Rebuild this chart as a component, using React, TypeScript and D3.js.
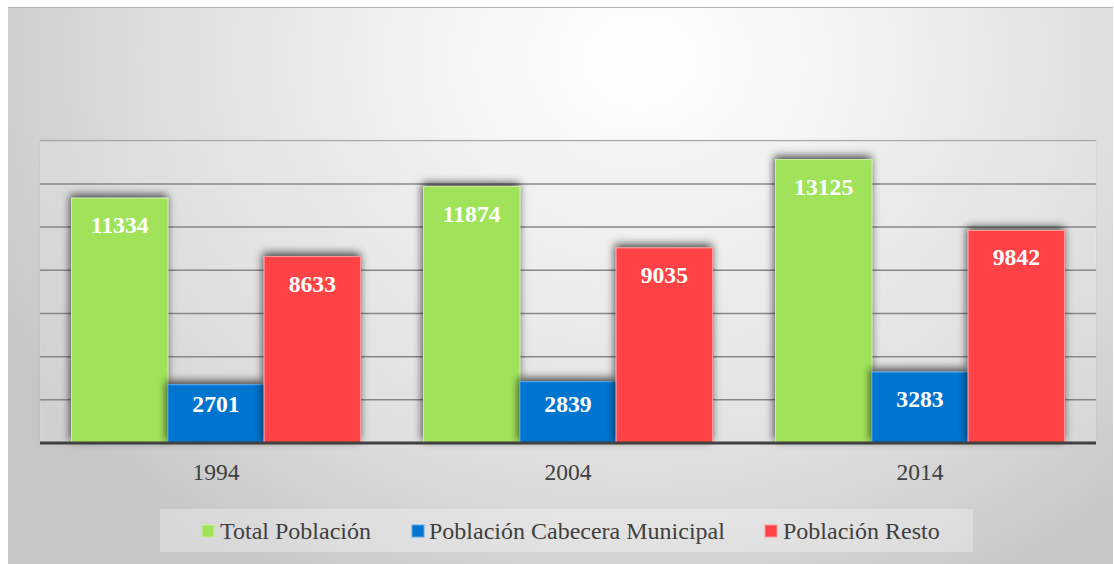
import React from "react";
import * as d3 from "d3";

const categories = ["1994", "2004", "2014"];
const seriesNames = ["Total Población", "Población Cabecera Municipal", "Población Resto"];
const totalPoblacion = [11334, 11874, 13125];
const cabeceraMunicipal = [2701, 2839, 3283];
const poblacionResto = [8633, 9035, 9842];
const yTicks = [0, 2000, 4000, 6000, 8000, 10000, 12000, 14000];

const colors = ["#a0e35a", "#0474d0", "#ff4245"];
const strokes = ["#c8f29a", "#5aaaf0", "#ff9a9c"];

const W = 1114;
const H = 564;
const plot = { left: 40, right: 1096, top: 140.7, bottom: 443 };
const serif = "'Liberation Serif', 'Times New Roman', serif";

export default function App() {
  const series = [totalPoblacion, cabeceraMunicipal, poblacionResto];
  const x0 = d3.scaleBand().domain(categories).range([plot.left, plot.right]).paddingInner(0).paddingOuter(0);
  const x1 = d3
    .scaleBand()
    .domain(seriesNames)
    .range([0, x0.bandwidth()])
    .paddingInner(0)
    .paddingOuter(0.327);
  const y = d3.scaleLinear().domain([0, 14000]).range([plot.bottom, plot.top]);

  const legendItems = [
    { name: seriesNames[0], sx: 202, tx: 220 },
    { name: seriesNames[1], sx: 412, tx: 429 },
    { name: seriesNames[2], sx: 765, tx: 783 },
  ];

  return (
    <svg
      width={W}
      height={H}
      style={{ position: "absolute", left: 0, top: 0, display: "block" }}
    >
      <defs>
        <radialGradient id="bg" gradientUnits="userSpaceOnUse" cx={640} cy={60} r={720}
          gradientTransform="translate(640 60) scale(1 0.85) translate(-640 -60)">
          <stop offset="0" stopColor="#ffffff" />
          <stop offset="0.3" stopColor="#f3f3f3" />
          <stop offset="0.7" stopColor="#dcdcdc" />
          <stop offset="1" stopColor="#c6c6c6" />
        </radialGradient>
        <filter id="plotShadow" x="-5%" y="-10%" width="110%" height="120%">
          <feDropShadow dx="0" dy="0" stdDeviation="1.5" floodColor="#000" floodOpacity="0.35" />
        </filter>
        <filter id="barShadow" x="-30%" y="-30%" width="160%" height="160%">
          <feDropShadow dx="-1" dy="-3" stdDeviation="4" floodColor="#000" floodOpacity="0.7" />
        </filter>
      </defs>
      <rect x={0} y={0} width={W} height={H} fill="#ffffff" />
      <rect x={8} y={7} width={1105} height={H - 7} fill="url(#bg)" />
      <line x1={8} x2={1113} y1={7.5} y2={7.5} stroke="#b4b4b4" strokeWidth={1} />

      {/* plot area */}
      <rect
        x={plot.left}
        y={plot.top}
        width={plot.right - plot.left}
        height={plot.bottom - plot.top}
        fill="#ffffff"
        fillOpacity={0.25}
        filter="url(#plotShadow)"
      />

      {/* gridlines */}
      {yTicks.slice(1, -1).map((t) => (
        <line
          key={t}
          x1={plot.left}
          x2={plot.right}
          y1={y(t)}
          y2={y(t)}
          stroke="#878787"
          strokeWidth={1.5}
        />
      ))}
      <line x1={plot.left} x2={plot.right} y1={plot.top} y2={plot.top} stroke="#9a9a9a" strokeWidth={1} />

      {/* bars */}
      {categories.map((c, ci) => (
        <g key={c}>
          {seriesNames.map((s, si) => {
            const v = series[si][ci];
            const bx = (x0(c) as number) + (x1(s) as number);
            const bw = x1.bandwidth();
            return (
              <rect
                key={s}
                x={bx}
                y={y(v)}
                width={bw}
                height={plot.bottom - y(v)}
                fill={colors[si]}
                stroke={strokes[si]}
                strokeWidth={1}
                filter="url(#barShadow)"
              />
            );
          })}
        </g>
      ))}
      {categories.map((c, ci) => (
        <g key={c + "l"}>
          {seriesNames.map((s, si) => {
            const v = series[si][ci];
            const bx = (x0(c) as number) + (x1(s) as number) + x1.bandwidth() / 2;
            const h = plot.bottom - y(v);
            const off = Math.min(35, h - 31);
            return (
              <text
                key={s}
                x={bx}
                y={y(v) + off}
                textAnchor="middle"
                fill="#ffffff"
                fontFamily={serif}
                fontWeight="bold"
                fontSize={23.7}
              >
                {v}
              </text>
            );
          })}
        </g>
      ))}

      {/* axis */}
      <line x1={plot.left} x2={plot.right} y1={plot.bottom} y2={plot.bottom} stroke="#404040" strokeWidth={3} />
      {categories.map((c) => (
        <text
          key={c}
          x={(x0(c) as number) + x0.bandwidth() / 2}
          y={480}
          textAnchor="middle"
          fill="#404040"
          fontFamily={serif}
          fontSize={23.5}
        >
          {c}
        </text>
      ))}

      {/* legend */}
      <rect x={160} y={509} width={813} height={43} fill="#ffffff" fillOpacity={0.3} />
      {legendItems.map((it, i) => (
        <g key={it.name}>
          <rect x={it.sx} y={525} width={12} height={12} fill={colors[i]} stroke={strokes[i]} strokeWidth={1} />
          <text x={it.tx} y={539} fill="#404040" fontFamily={serif} fontSize={24}>
            {it.name}
          </text>
        </g>
      ))}
    </svg>
  );
}
